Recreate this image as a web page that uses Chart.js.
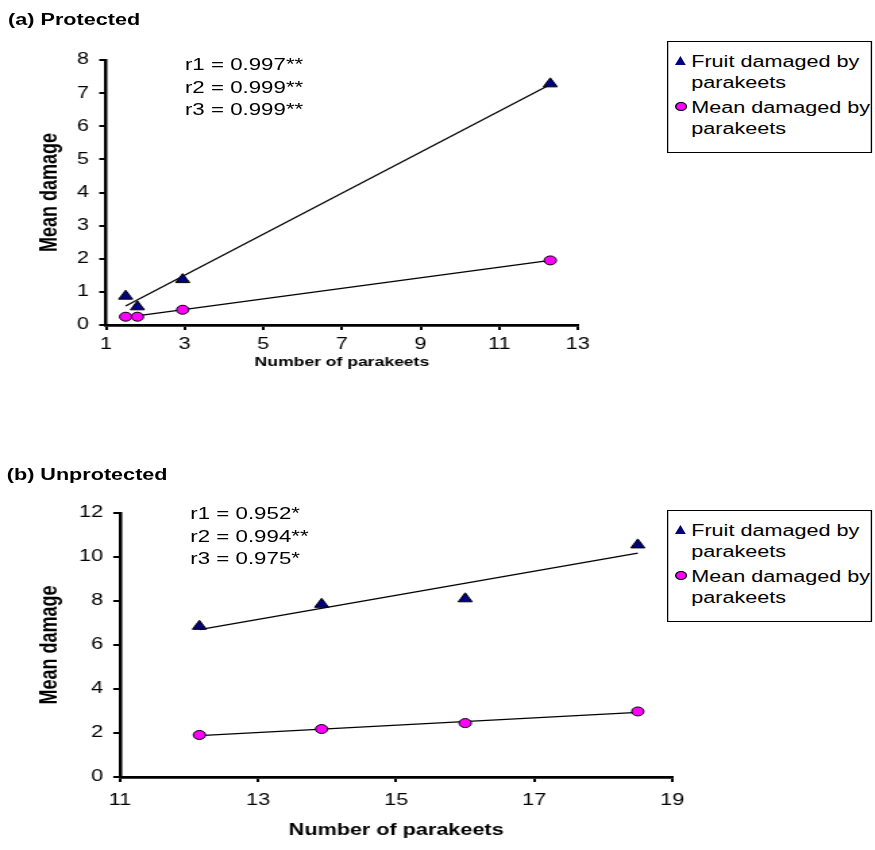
<!DOCTYPE html>
<html>
<head>
<meta charset="utf-8">
<script src="https://cdn.jsdelivr.net/npm/chart.js@4.4.0/dist/chart.umd.min.js"></script>
<style>
  body { margin: 0; background: #fff; font-family: "Liberation Sans", Arial, sans-serif; }
  /* the reference is stretched sideways, so everything is drawn narrow and scaled */
  #wrap { position: absolute; left: 0; top: 0; width: 648px; height: 850px;
          transform: scaleX(1.35); transform-origin: 0 0; }
  canvas { position: absolute; left: 0; }
  .lbl { position: absolute; white-space: nowrap; color: #000; }
  .panel { font-weight: bold; font-size: 16px; }
  .rtxt { font-size: 16.5px; line-height: 22.5px; }
  .legend { position: absolute; border: 1.5px solid #000; background: #fff;
            font-size: 16px; line-height: 21px; white-space: nowrap; }
  .item { position: relative; padding-left: 14px; margin-bottom: 4px; }
  .tri { position: absolute; left: 2px; top: 5px; width: 0; height: 0;
         border-left: 4.5px solid transparent; border-right: 4.5px solid transparent;
         border-bottom: 9px solid #000080; }
  .dot { position: absolute; left: 2px; top: 5px; width: 7px; height: 7px;
         border-radius: 50%; background: #ff00ff; border: 1px solid #000; }
</style>
</head>
<body>
<div id="wrap">
  <div class="lbl panel" style="left:6px; top:11px;">(a) Protected</div>
  <canvas id="topChart" width="648" height="430" style="top:0;"></canvas>
  <div class="lbl rtxt" id="topR" style="left:137px; top:53px;"></div>
  <div class="legend" id="topLegend" style="left:494px; top:41px; width:150px; height:110px;"></div>

  <div class="lbl panel" style="left:5px; top:466px;">(b) Unprotected</div>
  <canvas id="botChart" width="648" height="420" style="top:430px;"></canvas>
  <div class="lbl rtxt" id="botR" style="left:141px; top:502px;"></div>
  <div class="legend" id="botLegend" style="left:494px; top:510px; width:150px; height:110px;"></div>
</div>
<script>
// values
const SERIES = ['Fruit damaged by parakeets', 'Mean damaged by parakeets'];

const TOP_X = [1.5, 1.8, 2.95, 12.3];
const TOP_FRUIT = [0.87, 0.55, 1.37, 7.28];
const TOP_MEAN = [0.25, 0.25, 0.46, 1.95];
const TOP_R = ['r1 = 0.997**', 'r2 = 0.999**', 'r3 = 0.999**'];

const BOT_X = [12.15, 13.92, 16.0, 18.5];
const BOT_FRUIT = [6.85, 7.85, 8.1, 10.55];
const BOT_MEAN = [1.91, 2.18, 2.45, 2.98];
const BOT_R = ['r1 = 0.952*', 'r2 = 0.994**', 'r3 = 0.975*'];

const FONT = '"Liberation Sans", Arial, sans-serif';

// least squares trend line, drawn between the first and last x
function trend(xs, ys) {
    const n = xs.length;
    const mx = xs.reduce((a, b) => a + b, 0) / n;
    const my = ys.reduce((a, b) => a + b, 0) / n;
    let sxy = 0, sxx = 0;
    for (let i = 0; i < n; i++) {
        sxy += (xs[i] - mx) * (ys[i] - my);
        sxx += (xs[i] - mx) * (xs[i] - mx);
    }
    const b = sxy / sxx, a = my - b * mx;
    const x0 = Math.min(...xs), x1 = Math.max(...xs);
    return [{ x: x0, y: a + b * x0 }, { x: x1, y: a + b * x1 }];
}

function pts(xs, ys) {
    return xs.map((x, i) => ({ x: x, y: ys[i] }));
}

function makeChart(id, xs, fruit, mean, s) {
    const ctx = document.getElementById(id).getContext('2d');
    return new Chart(ctx, {
        type: 'scatter',
        data: {
            datasets: [
                { label: 'trend1', data: trend(xs, fruit), showLine: true, borderColor: '#000',
                  borderWidth: 1.3, pointRadius: 0, order: 3 },
                { label: 'trend2', data: trend(xs, mean), showLine: true, borderColor: '#000',
                  borderWidth: 1.3, pointRadius: 0, order: 3 },
                { label: SERIES[0], data: pts(xs, fruit), pointStyle: 'triangle', pointRadius: 6,
                  backgroundColor: '#000080', borderColor: '#000', borderWidth: 1, order: 1 },
                { label: SERIES[1], data: pts(xs, mean), pointStyle: 'circle', pointRadius: 4.5,
                  backgroundColor: '#ff00ff', borderColor: '#000', borderWidth: 1, order: 1 }
            ]
        },
        options: {
            responsive: false,
            animation: false,
            layout: { padding: s.pad },
            plugins: { legend: { display: false }, tooltip: { enabled: false } },
            scales: {
                x: {
                    type: 'linear', min: s.xmin, max: s.xmax,
                    afterFit: sc => { sc.height = s.xh; },
                    border: { display: true, color: '#000', width: 2.8 },
                    grid: { drawOnChartArea: false, drawTicks: true, tickLength: 5, color: '#000', lineWidth: 2 },
                    ticks: { stepSize: s.xstep, color: '#000', padding: s.xpad, font: { family: FONT, size: 16 } },
                    title: { display: true, text: 'Number of parakeets', color: '#000',
                             font: { family: FONT, size: s.xtitle, weight: 'bold' } }
                },
                y: {
                    min: 0, max: s.ymax,
                    afterFit: sc => { sc.width = s.yw; },
                    border: { display: true, color: '#000', width: 2.5 },
                    grid: { drawOnChartArea: false, drawTicks: true, tickLength: 5, color: '#000', lineWidth: 2 },
                    ticks: { stepSize: s.ystep, color: '#000', padding: 7.5, font: { family: FONT, size: 16 } },
                    title: { display: true, text: 'Mean damage', color: '#000',
                             font: { family: FONT, size: 18, weight: 'bold' } }
                }
            }
        }
    });
}

function fillText(id, lines) {
    document.getElementById(id).innerHTML = lines.join('<br>');
}

function fillLegend(id) {
    const words = SERIES.map(t => t.replace(' parakeets', '<br>parakeets'));
    document.getElementById(id).innerHTML =
        '<div style="padding:9px 0 0 3px">' +
        '<div class="item"><span class="tri"></span>' + words[0] + '</div>' +
        '<div class="item"><span class="dot"></span>' + words[1] + '</div></div>';
}

makeChart('topChart', TOP_X, TOP_FRUIT, TOP_MEAN, {
    pad: { left: 22, top: 60, right: 220, bottom: 56 },
    xmin: 1, xmax: 13, xstep: 2, ymax: 8, ystep: 1,
    xh: 49, yw: 56.5, xpad: 5, xtitle: 13
});
makeChart('botChart', BOT_X, BOT_FRUIT, BOT_MEAN, {
    pad: { left: 22, top: 83, right: 150, bottom: 6 },
    xmin: 11, xmax: 19, xstep: 2, ymax: 12, ystep: 2,
    xh: 67, yw: 66.9, xpad: 8.5, xtitle: 16
});
fillText('topR', TOP_R);
fillText('botR', BOT_R);
fillLegend('topLegend');
fillLegend('botLegend');
</script>
</body>
</html>
